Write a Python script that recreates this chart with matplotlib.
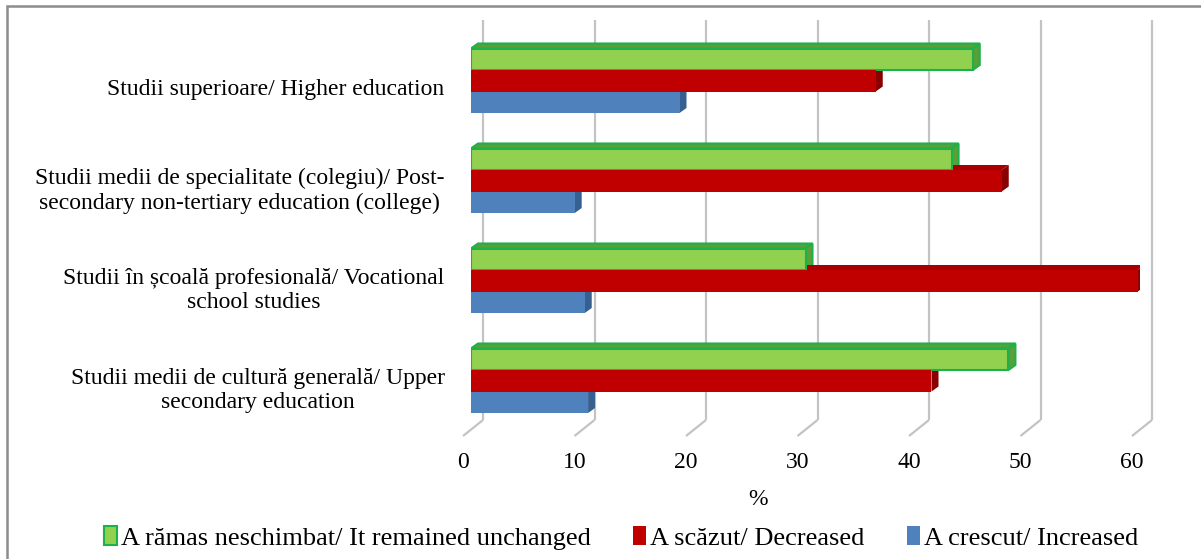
import matplotlib
matplotlib.use('Agg')
import matplotlib.pyplot as plt
from matplotlib.patches import Polygon, Patch, Rectangle
from matplotlib.transforms import ScaledTranslation

plt.rcParams['font.family'] = ['Liberation Serif', 'DejaVu Serif']

# categories bottom -> top
categories = [
    "Studii medii de cultură generală/ Upper\nsecondary education",
    "Studii în școală profesională/ Vocational\nschool studies",
    "Studii medii de specialitate (colegiu)/ Post-\nsecondary non-tertiary education (college)",
    "Studii superioare/ Higher education",
]
unchanged = [48.2, 30.0, 43.1, 45.0]
decreased = [41.3, 59.8, 47.6, 36.3]
increased = [10.5, 10.2, 9.3, 18.7]
series_labels = [
    "A rămas neschimbat/ It remained unchanged",
    "A scăzut/ Decreased",
    "A crescut/ Increased",
]
xticks = [0, 10, 20, 30, 40, 50, 60]

# colours: front, top, side, edge
colors = [
    ('#92D050', '#5C9E38', '#5C9E38', '#1DB14B'),
    ('#C00000', '#A80000', '#8A0000', '#C00000'),
    ('#4F81BD', '#44709F', '#36608F', '#4F81BD'),
]

W, H = 1201, 559
fs = 17
fig = plt.figure(figsize=(W / 100, H / 100), dpi=100)
ax = fig.add_axes([471 / W, (H - 430) / H, 669 / W, 400 / H])
x0, x1 = 0, 60
y0, y1 = -0.4925, 3.5075
ax.set_xlim(x0, x1)
ax.set_ylim(y0, y1)

px_x = (x1 - x0) / 669.0   # data units per pixel
px_y = (y1 - y0) / 400.0
bx, by = 12 * px_x, 10 * px_y   # back wall offset
fx, fy = -8 * px_x, -6 * px_y   # front floor offset
dx, dy = 7 * px_x, 5 * px_y     # bar depth

# back wall gridlines and floor diagonals
for v in xticks:
    ax.plot([v + bx, v + bx], [y0 + by, y1 + by], color='#C3C3C3', lw=1.6,
            clip_on=False, zorder=0, solid_capstyle='butt')
    ax.plot([v + fx, v + bx], [y0 + fy, y0 + by], color='#C3C3C3', lw=1.6,
            clip_on=False, zorder=0, solid_capstyle='butt')

h = 0.215
pos = list(range(len(categories)))
series = [unchanged, decreased, increased]
shifts = [h, 0, -h]
for i, (vals, shift, (front, topc, side, edge)) in enumerate(zip(series, shifts, colors)):
    lw = 1.5 if i == 0 else 0
    for p, v in zip(pos, vals):
        yc = p + shift
        bot, top = yc - h / 2, yc + h / 2
        ax.barh(yc, v, height=h, color=front, edgecolor=edge, linewidth=lw, zorder=3)
        ax.add_patch(Polygon([(0, top), (v, top), (v + dx, top + dy), (dx, top + dy)],
                             closed=True, facecolor=topc, edgecolor=edge, linewidth=lw,
                             zorder=2))
        ax.add_patch(Polygon([(v, bot), (v, top), (v + dx, top + dy), (v + dx, bot + dy)],
                             closed=True, facecolor=side, edgecolor=edge, linewidth=lw,
                             zorder=2))

for s in ax.spines.values():
    s.set_visible(False)

ax.set_xticks(xticks)
ax.set_xticklabels([str(t) for t in xticks], fontsize=fs)
ax.tick_params(axis='x', length=0, pad=16)
for lab in ax.get_xticklabels():
    lab.set_transform(lab.get_transform() + ScaledTranslation(-8 / 100, 0, fig.dpi_scale_trans))

ax.set_yticks(pos)
ax.set_yticklabels(categories, fontsize=fs)
ax.tick_params(axis='y', length=0, pad=19)
for lab in ax.get_yticklabels():
    lab.set_multialignment('center')
    lab.set_linespacing(1.2)
    lab.set_transform(lab.get_transform() + ScaledTranslation(0, -6 / 100, fig.dpi_scale_trans))

ax.set_xlabel('%', fontsize=fs)
ax.xaxis.set_label_coords((758 - 471) / 669, -(489 - 430) / 400)

handles = [Patch(facecolor=c[0], edgecolor=c[3], linewidth=1.5 if i == 0 else 0)
           for i, c in enumerate(colors)]
fig.legend(handles, series_labels, loc='center', bbox_to_anchor=(621 / W, 1 - 538 / H),
           ncol=3, frameon=False, fontsize=19, handlelength=0.5, handleheight=0.7,
           handletextpad=0.15, columnspacing=1.6)

fig.patches.append(Rectangle((7 / W, -0.1), 1.2, 1 - 5.5 / H + 0.1, transform=fig.transFigure,
                             fill=False, edgecolor='#8C8C8C', linewidth=1.8))

fig.savefig('out.png', dpi=100)
